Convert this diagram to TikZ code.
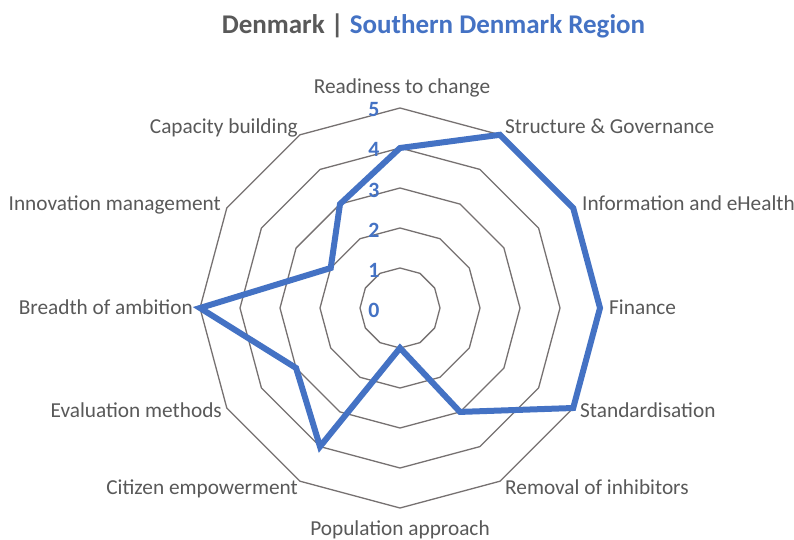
\documentclass[tikz,border=0pt]{standalone}
\usepackage{fontspec}
\setmainfont{Carlito}
\usetikzlibrary{calc}
\definecolor{txtgray}{HTML}{595959}
\definecolor{gridgray}{HTML}{767171}
\definecolor{serblue}{HTML}{4472C4}
\begin{document}
\begin{tikzpicture}[x=1pt,y=-1pt,
  lbl/.style={inner sep=0pt,text=txtgray,font=\fontsize{21.3}{24}\selectfont},
  tick/.style={inner sep=0pt,text=serblue,font=\fontsize{21.8}{24}\selectfont\bfseries,anchor=base},
  ring/.style={draw=gridgray,line width=1.3pt,line join=round},
  series/.style={draw=serblue,line width=6pt,line join=miter}]
\useasboundingbox (0,0) rectangle (794,540);
\fill[white] (0,0) rectangle (794,540);
% title
\node[inner sep=0pt,anchor=base,font=\fontsize{27}{30}\selectfont\bfseries] (title) at (433.5,33.3)
  {\textcolor{txtgray}{Denmark | }\textcolor{serblue}{Southern Denmark Region}};
% grid rings
\foreach \lv in {1,...,5}{
  \foreach \k in {0,...,11}{
    \coordinate (g\lv-\k) at ({400+40*\lv*sin(30*\k)},{308-40*\lv*cos(30*\k)});
  }
  \draw[ring] (g\lv-0) -- (g\lv-1) -- (g\lv-2) -- (g\lv-3) -- (g\lv-4) -- (g\lv-5) -- (g\lv-6)
     -- (g\lv-7) -- (g\lv-8) -- (g\lv-9) -- (g\lv-10) -- (g\lv-11) -- cycle;
}
% tick labels
\foreach \v in {0,...,5}{
  \node[tick] (t\v) at (374,{317-40*\v}) {\v};
}
% data
\foreach \k/\v in {0/4,1/5,2/5,3/5,4/5,5/3,6/1,7/4,8/3,9/5,10/2,11/3}{
  \coordinate (d\k) at ({400+40*\v*sin(30*\k)},{308-40*\v*cos(30*\k)});
}
\draw[series] (d0) -- (d1) -- (d2) -- (d3) -- (d4) -- (d5) -- (d6) -- (d7) -- (d8) -- (d9) -- (d10) -- (d11) -- cycle;
% axis labels
\node[lbl,anchor=base] (l0) at (402,93.3) {Readiness to change};
\node[lbl,anchor=base west] (l1) at (505,133.5) {Structure \& Governance};
\node[lbl,anchor=base west] (l2) at (582,210.7) {Information and eHealth};
\node[lbl,anchor=base west] (l3) at (609,314) {Finance};
\node[lbl,anchor=base west] (l4) at (580,417) {Standardisation};
\node[lbl,anchor=base west] (l5) at (505,494) {Removal of inhibitors};
\node[lbl,anchor=base] (l6) at (400,535) {Population approach};
\node[lbl,anchor=base east] (l7) at (298,494) {Citizen empowerment};
\node[lbl,anchor=base east] (l8) at (222,417) {Evaluation methods};
\node[lbl,anchor=base east] (l9) at (193,314) {Breadth of ambition};
\node[lbl,anchor=base east] (l10) at (221,210.7) {Innovation management};
\node[lbl,anchor=base east] (l11) at (298,133.5) {Capacity building};
\end{tikzpicture}
\end{document}
